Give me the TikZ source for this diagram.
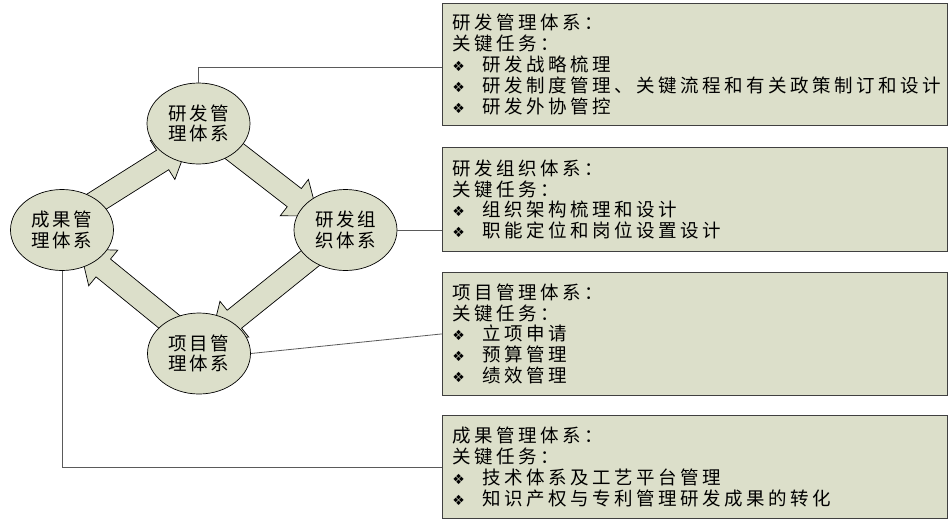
\documentclass[tikz,border=0pt]{standalone}
\usepackage{fontspec}
\newfontfamily\cjk[LetterSpace=19]{Noto Sans CJK SC}
\newfontfamily\cjke[LetterSpace=14]{Noto Sans CJK SC}
\newfontfamily\sym{DejaVu Sans}
\usetikzlibrary{shapes.geometric,calc}
\definecolor{fillg}{RGB}{220,223,202}
\definecolor{lineg}{RGB}{90,90,90}
\newcommand\bul{\makebox[30pt][l]{\sym\fontsize{14}{14}\selectfont ❖}}
\newcommand\fatarrow[2]{%
  \coordinate (H) at ($(#2)!30pt!(#1)$);
  \filldraw[fatarr] ($(#1)!11.5pt!90:(#2)$) -- ($(H)!11.5pt!-90:(#1)$) -- ($(H)!23pt!-90:(#1)$) -- (#2)
     -- ($(H)!23pt!90:(#1)$) -- ($(H)!11.5pt!90:(#1)$) -- ($(#1)!11.5pt!-90:(#2)$) -- cycle;}
\begin{document}
\begin{tikzpicture}[x=1pt,y=-1pt,
  fatarr/.style={fill=fillg, draw=black, line width=0.7pt, line join=miter},
  ell/.style={ellipse, draw=black, line width=0.7pt, fill=fillg, minimum width=103pt, minimum height=81pt,
    inner sep=0pt, align=center, font=\cjke\fontsize{18.5}{20.5}\selectfont},
  infobox/.style={draw=black!75, fill=fillg, line width=0.8pt, text width=485pt, inner xsep=10pt, inner ysep=0pt,
    align=left, anchor=north west, font=\cjk\fontsize{18.5}{20.8}\selectfont},
  conn/.style={draw=lineg, line width=0.8pt}]
\useasboundingbox (0,0) rectangle (949,520);
% block arrows (behind the ellipses)
\coordinate (a1s) at (61,224);  \coordinate (a1t) at (188,144);
\coordinate (a2s) at (198,123); \coordinate (a2t) at (318,216);
\coordinate (a3s) at (344,231); \coordinate (a3t) at (211,338);
\coordinate (a4s) at (199,346); \coordinate (a4t) at (80,249);
\fatarrow{a1s}{a1t}
\fatarrow{a2s}{a2t}
\fatarrow{a3s}{a3t}
\fatarrow{a4s}{a4t}
% ellipses
\node[ell] (yf) at (198.5,123.5) {研发管\\理体系};
\node[ell] (zz) at (345.5,230) {研发组\\织体系};
\node[ell] (cg) at (62,230) {成果管\\理体系};
\node[ell] (xm) at (199,353.5) {项目管\\理体系};
% boxes
\node[infobox, minimum height=122pt] (b1) at (442,3) {研发管理体系：\\关键任务：\\\bul 研发战略梳理\\\bul 研发制度管理、关键流程和有关政策制订和设计\\\bul 研发外协管控};
\node[infobox, minimum height=104pt] (b2) at (442,147) {研发组织体系：\\关键任务：\\\bul 组织架构梳理和设计\\\bul 职能定位和岗位设置设计};
\node[infobox, minimum height=123pt] (b3) at (442,272) {项目管理体系：\\关键任务：\\\bul 立项申请\\\bul 预算管理\\\bul 绩效管理};
\node[infobox, minimum height=103pt] (b4) at (442,415) {成果管理体系：\\关键任务：\\\bul 技术体系及工艺平台管理\\\bul 知识产权与专利管理研发成果的转化};
% connectors
\draw[conn] (yf.north) |- ([yshift=-3pt]b1.west);
\draw[conn] (zz.east) -- (zz.east -| b2.west);
\draw[conn] (xm.east) -- (b3.west);
\draw[conn] (cg.south) |- (b4.west);
\end{tikzpicture}
\end{document}
